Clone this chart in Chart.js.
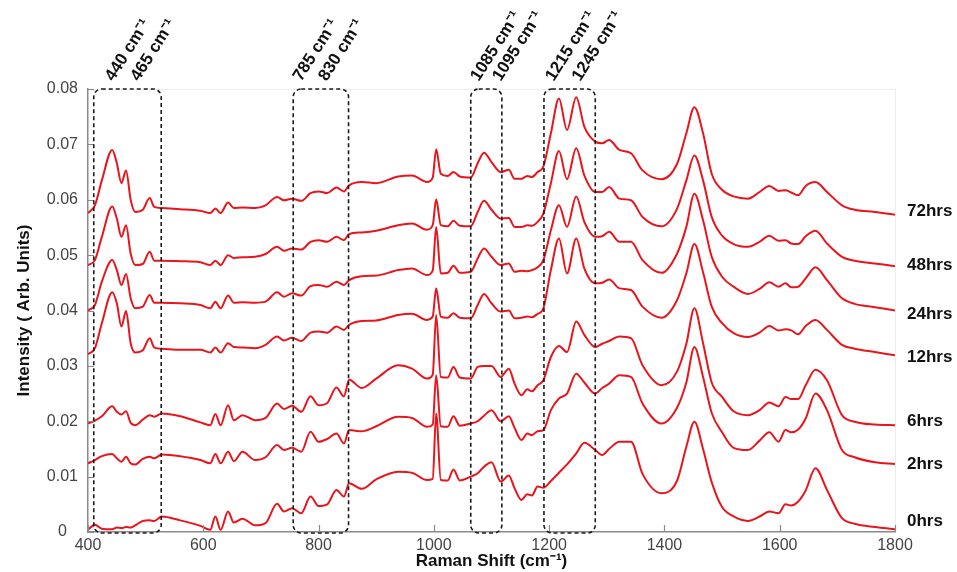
<!DOCTYPE html>
<html>
<head>
<meta charset="utf-8">
<script src="https://cdn.jsdelivr.net/npm/chart.js@4.4.1/dist/chart.umd.min.js"></script>
<style>
  body { margin: 0; background: #fff; }
  #wrap { width: 957px; height: 572px; position: relative; }
</style>
</head>
<body>
<div id="wrap"><canvas id="spectra"></canvas></div>
<script>
// Raman shift grid (cm-1), shared by all spectra
const shift = [
  400, 412, 424, 442, 450, 458, 466, 474, 482, 495,
  507, 515, 528, 560, 595, 612, 621, 630, 643, 653,
  668, 690, 708, 728, 740, 754, 770, 786, 800, 815,
  831, 844, 853, 875, 900, 938, 962, 988, 998, 1004,
  1012, 1024, 1034, 1045, 1064, 1076, 1087, 1100, 1116, 1130,
  1140, 1152, 1162, 1170, 1180, 1190, 1203, 1217, 1231, 1247,
  1261, 1280, 1292, 1304, 1322, 1342, 1362, 1395, 1422, 1438,
  1452, 1467, 1482, 1500, 1520, 1545, 1565, 1582, 1598, 1610,
  1620, 1632, 1645, 1662, 1682, 1708, 1730, 1765, 1800
];

// intensities (offset spectra, arb. units)
const h72 = [
  .0576,.0590,.0635,.0690,.0666,.0630,.0653,.0600,.0578,.0582,
  .0603,.0587,.0585,.0583,.0580,.0576,.0584,.0576,.0595,.0585,
  .0586,.0585,.0590,.0605,.0599,.0602,.0598,.0612,.0615,.0612,
  .0622,.0615,.0626,.0632,.0630,.0642,.0644,.0632,.0640,.0691,
  .0647,.0643,.0650,.0642,.0640,.0666,.0685,.0668,.0650,.0654,
  .0638,.0638,.0643,.0641,.0650,.0660,.0720,.0783,.0726,.0785,
  .0732,.0705,.0702,.0708,.0690,.0684,.0653,.0637,.0665,.0720,
  .0767,.0720,.0647,.0618,.0606,.0602,.0614,.0625,.0616,.0617,
  .0613,.0608,.0625,.0632,.0614,.0590,.0582,.0578,.0573
];
const h48 = [
  .0482,.0491,.0533,.0588,.0566,.0533,.0554,.0503,.0482,.0484,
  .0506,.0490,.0490,.0489,.0487,.0482,.0490,.0482,.0500,.0495,
  .0496,.0497,.0502,.0515,.0508,.0512,.0510,.0524,.0527,.0524,
  .0533,.0527,.0538,.0541,.0544,.0554,.0557,.0546,.0554,.0601,
  .0554,.0552,.0562,.0553,.0552,.0578,.0598,.0582,.0566,.0567,
  .0551,.0551,.0554,.0553,.0560,.0575,.0630,.0688,.0637,.0693,
  .0644,.0614,.0614,.0623,.0602,.0599,.0569,.0552,.0584,.0635,
  .0680,.0635,.0569,.0535,.0520,.0515,.0524,.0535,.0526,.0527,
  .0521,.0520,.0534,.0544,.0521,.0497,.0490,.0485,.0480
];
const h24 = [
  .0400,.0410,.0452,.0491,.0473,.0446,.0466,.0422,.0404,.0407,
  .0428,.0414,.0414,.0413,.0410,.0404,.0416,.0404,.0427,.0414,
  .0415,.0414,.0416,.0433,.0425,.0431,.0427,.0444,.0446,.0443,
  .0452,.0446,.0455,.0462,.0463,.0473,.0476,.0464,.0472,.0551,
  .0467,.0468,.0481,.0468,.0470,.0494,.0512,.0497,.0482,.0485,
  .0470,.0472,.0471,.0473,.0478,.0491,.0545,.0590,.0551,.0606,
  .0560,.0533,.0534,.0542,.0524,.0524,.0491,.0468,.0503,.0551,
  .0611,.0563,.0497,.0461,.0443,.0430,.0439,.0451,.0443,.0449,
  .0442,.0443,.0458,.0478,.0455,.0422,.0412,.0406,.0400
];
const h12 = [
  .0321,.0332,.0377,.0433,.0413,.0371,.0399,.0341,.0324,.0328,
  .0350,.0333,.0331,.0329,.0329,.0324,.0333,.0324,.0341,.0334,
  .0333,.0332,.0338,.0353,.0346,.0351,.0345,.0360,.0362,.0360,
  .0371,.0365,.0374,.0381,.0382,.0392,.0394,.0383,.0389,.0440,
  .0389,.0387,.0395,.0387,.0386,.0410,.0430,.0413,.0398,.0400,
  .0386,.0387,.0389,.0388,.0394,.0404,.0473,.0530,.0467,.0530,
  .0476,.0449,.0450,.0456,.0440,.0437,.0407,.0387,.0419,.0467,
  .0520,.0469,.0407,.0377,.0359,.0352,.0360,.0372,.0364,.0366,
  .0364,.0357,.0372,.0383,.0365,.0338,.0331,.0325,.0319
];
const h6 = [
  .0196,.0201,.0209,.0227,.0217,.0212,.0218,.0197,.0193,.0203,
  .0211,.0208,.0214,.0209,.0198,.0193,.0213,.0193,.0229,.0202,
  .0211,.0202,.0206,.0232,.0222,.0228,.0217,.0245,.0229,.0233,
  .0261,.0245,.0275,.0260,.0277,.0301,.0295,.0277,.0284,.0392,
  .0280,.0279,.0298,.0279,.0277,.0298,.0300,.0300,.0280,.0295,
  .0268,.0247,.0258,.0254,.0265,.0274,.0316,.0336,.0325,.0380,
  .0356,.0334,.0340,.0345,.0353,.0350,.0301,.0265,.0290,.0340,
  .0404,.0341,.0270,.0244,.0218,.0211,.0220,.0234,.0227,.0244,
  .0240,.0240,.0265,.0293,.0274,.0211,.0199,.0194,.0193
];
const h2 = [
  .0124,.0130,.0137,.0141,.0133,.0127,.0136,.0124,.0122,.0132,
  .0136,.0133,.0140,.0137,.0130,.0124,.0141,.0124,.0145,.0128,
  .0145,.0130,.0135,.0157,.0148,.0152,.0145,.0181,.0163,.0168,
  .0178,.0160,.0184,.0182,.0191,.0208,.0206,.0190,.0194,.0283,
  .0191,.0190,.0209,.0192,.0196,.0200,.0210,.0220,.0200,.0209,
  .0188,.0166,.0178,.0175,.0182,.0184,.0220,.0241,.0250,.0286,
  .0270,.0250,.0260,.0268,.0283,.0280,.0232,.0196,.0225,.0270,
  .0334,.0280,.0215,.0180,.0152,.0148,.0165,.0180,.0163,.0184,
  .0180,.0185,.0205,.0250,.0220,.0148,.0135,.0126,.0123
];
const h0 = [
  .0004,.0013,.0006,.0005,.0008,.0007,.0009,.0008,.0012,.0020,
  .0021,.0020,.0028,.0021,.0011,.0004,.0028,.0004,.0037,.0017,
  .0024,.0012,.0016,.0051,.0037,.0043,.0034,.0064,.0047,.0050,
  .0076,.0064,.0088,.0078,.0095,.0109,.0107,.0094,.0096,.0214,
  .0094,.0093,.0113,.0093,.0100,.0106,.0118,.0126,.0091,.0102,
  .0079,.0058,.0068,.0066,.0082,.0080,.0092,.0107,.0122,.0142,
  .0161,.0148,.0139,.0150,.0163,.0163,.0105,.0070,.0093,.0154,
  .0199,.0150,.0090,.0045,.0028,.0020,.0028,.0037,.0034,.0050,
  .0048,.0055,.0075,.0115,.0076,.0025,.0015,.0009,.0005
];

const seriesNames = ['72hrs', '48hrs', '24hrs', '12hrs', '6hrs', '2hrs', '0hrs'];
const seriesValues = [h72, h48, h24, h12, h6, h2, h0];
// intensity level where each time label sits on the right
const nameLevel = [0.0580, 0.0482, 0.0394, 0.0316, 0.0199, 0.0123, 0.0019];

const xTicks = [400, 600, 800, 1000, 1200, 1400, 1600, 1800];
const yTicks = [0, 0.01, 0.02, 0.03, 0.04, 0.05, 0.06, 0.07, 0.08];

// highlighted bands (cm-1) and their peak labels
const bands = [[410, 527], [756, 852], [1064, 1118], [1191, 1280]];
const peakLabels = ['440 cm⁻¹', '465 cm⁻¹', '785 cm⁻¹', '830 cm⁻¹',
                    '1085 cm⁻¹', '1095 cm⁻¹', '1215 cm⁻¹', '1245 cm⁻¹'];
const peakLabelAt = [444, 488, 770, 814, 1078, 1116, 1208, 1254];

const RED = '#e8151d';
const FONT = '"Liberation Sans", Arial, sans-serif';

const decorations = {
  id: 'decorations',
  afterDatasetsDraw(chart) {
    const { ctx, chartArea: a, scales: { x, y } } = chart;
    ctx.save();

    // faint frame on top and right
    ctx.strokeStyle = '#ededed';
    ctx.lineWidth = 1;
    ctx.beginPath();
    ctx.moveTo(a.left, a.top + 0.5);
    ctx.lineTo(a.right + 0.5, a.top + 0.5);
    ctx.lineTo(a.right + 0.5, a.bottom);
    ctx.stroke();

    // tick marks pointing into the plot
    ctx.strokeStyle = '#8a8a8a';
    ctx.lineWidth = 1.2;
    ctx.beginPath();
    yTicks.forEach(v => {
      const py = Math.round(y.getPixelForValue(v)) + 0.5;
      ctx.moveTo(a.left, py);
      ctx.lineTo(a.left + 6, py);
    });
    xTicks.forEach(v => {
      const px = Math.round(x.getPixelForValue(v)) + 0.5;
      ctx.moveTo(px, a.bottom);
      ctx.lineTo(px, a.bottom - 7);
    });
    ctx.stroke();

    // dashed band boxes
    ctx.setLineDash([4, 3]);
    ctx.strokeStyle = '#1b1b1b';
    ctx.lineWidth = 1.6;
    const top = y.getPixelForValue(0.08);
    const bottom = y.getPixelForValue(0) + 1;
    bands.forEach(([lo, hi]) => {
      const l = x.getPixelForValue(lo);
      const r = x.getPixelForValue(hi);
      ctx.beginPath();
      ctx.roundRect(l, top, r - l, bottom - top, 8);
      ctx.stroke();
    });
    ctx.setLineDash([]);

    // rotated peak labels
    ctx.fillStyle = '#111';
    ctx.font = 'bold 17px ' + FONT;
    ctx.textAlign = 'left';
    ctx.textBaseline = 'alphabetic';
    peakLabels.forEach((t, i) => {
      ctx.save();
      ctx.translate(x.getPixelForValue(peakLabelAt[i]), top - 7);
      ctx.rotate(-57.5 * Math.PI / 180);
      ctx.fillText(t, 0, 0);
      ctx.restore();
    });

    // time labels at the right end of each spectrum
    ctx.font = 'bold 17px ' + FONT;
    ctx.textBaseline = 'middle';
    seriesNames.forEach((n, i) => {
      ctx.fillText(n, a.right + 12, y.getPixelForValue(nameLevel[i]));
    });

    ctx.restore();
  }
};

new Chart(document.getElementById('spectra'), {
  type: 'line',
  data: {
    datasets: seriesNames.map((n, i) => ({
      label: n,
      data: shift.map((s, k) => ({ x: s, y: seriesValues[i][k] })),
      borderColor: RED,
      borderWidth: 2,
      pointRadius: 0,
      fill: false,
      cubicInterpolationMode: 'monotone'
    }))
  },
  options: {
    responsive: true,
    maintainAspectRatio: false,
    animation: false,
    layout: { padding: { top: 89, right: 62, left: 0, bottom: 0 } },
    plugins: { legend: { display: false }, tooltip: { enabled: false } },
    scales: {
      x: {
        type: 'linear',
        min: 400,
        max: 1800,
        afterFit(scale) { scale.height = 40; },
        afterBuildTicks(scale) { scale.ticks = xTicks.map(v => ({ value: v })); },
        grid: { display: false, drawTicks: false },
        border: { display: true, color: '#8a8a8a', width: 1.5 },
        ticks: {
          color: '#444',
          font: { family: FONT, size: 16 },
          padding: 4,
          maxRotation: 0,
          callback: v => String(v)
        },
        title: {
          display: true,
          text: 'Raman Shift (cm⁻¹)',
          color: '#111',
          font: { family: FONT, size: 17, weight: 'bold' },
          padding: { top: 0, bottom: 0 }
        }
      },
      y: {
        min: 0,
        max: 0.08,
        afterFit(scale) { scale.width = 88; },
        afterBuildTicks(scale) { scale.ticks = yTicks.map(v => ({ value: v })); },
        grid: { display: false, drawTicks: false },
        border: { display: true, color: '#8a8a8a', width: 1.5 },
        ticks: {
          color: '#444',
          font: { family: FONT, size: 16 },
          padding: 10,
          crossAlign: 'center',
          callback: v => (v === 0 ? '0' : v.toFixed(2))
        },
        title: {
          display: true,
          text: 'Intensity ( Arb. Units)',
          color: '#111',
          font: { family: FONT, size: 17, weight: 'bold' },
          padding: { top: 14, bottom: 0 }
        }
      }
    }
  },
  plugins: [decorations]
});
</script>
</body>
</html>
